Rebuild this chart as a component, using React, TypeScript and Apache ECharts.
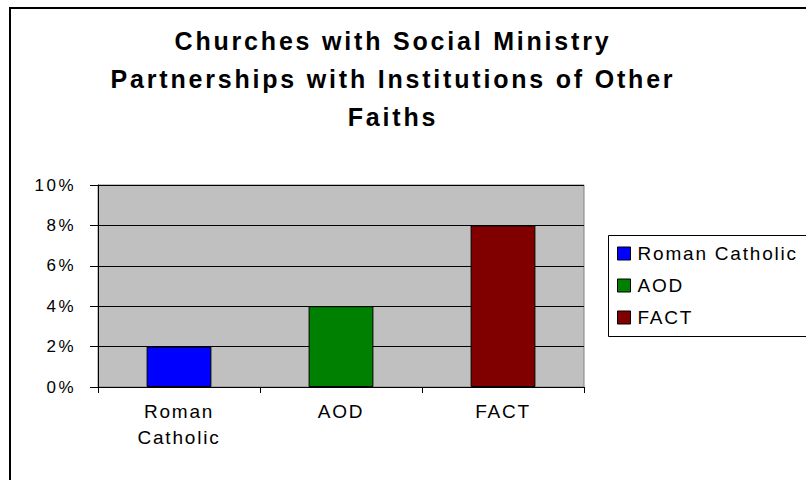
import React, { useEffect, useRef } from "react";
import * as echarts from "echarts";

const titleLines = [
  "Churches with Social Ministry",
  "Partnerships with Institutions of Other",
  "Faiths",
];
const categories = ["Roman Catholic", "AOD", "FACT"];
const values = [2, 4, 8];
const colors = ["#0000FF", "#008000", "#800000"];
const yMin = 0;
const yMax = 10;
const yStep = 2;

const FONT = "'Liberation Sans', Arial, sans-serif";

export default function App() {
  const ref = useRef<HTMLDivElement>(null);

  useEffect(() => {
    if (!ref.current) return;
    const chart = echarts.init(ref.current, undefined, { renderer: "svg" });

    const series = categories.map((name, i) => ({
      name,
      type: "bar",
      barWidth: "40%",
      barGap: "-100%",
      silent: true,
      data: categories.map((_, j) => (j === i ? values[i] : "-")),
      itemStyle: { color: colors[i], borderColor: "#000", borderWidth: 1 },
    }));

    chart.setOption({
      animation: false,
      backgroundColor: "#fff",
      textStyle: { fontFamily: FONT },
      graphic: [
        {
          type: "rect",
          shape: { x: 10, y: 8, width: 900, height: 600 },
          style: { fill: "none", stroke: "#000", lineWidth: 2 },
          silent: true,
        },
        {
          type: "rect",
          shape: { x: 608.5, y: 235.5, width: 300, height: 101 },
          style: { fill: "none", stroke: "#000", lineWidth: 1 },
          silent: true,
        },
        {
          type: "text",
          x: 393,
          y: 22,
          silent: true,
          style: {
            text: titleLines.join("\n"),
            fill: "#000",
            font: `bold 25px ${FONT}`,
            lineHeight: 38,
            align: "center",
            verticalAlign: "top",
          },
        },
      ],
      legend: {
        orient: "vertical",
        left: 617,
        top: 244,
        padding: 0,
        itemGap: 13,
        itemWidth: 13,
        itemHeight: 13,
        icon: "rect",
        selectedMode: false,
        data: categories,
        itemStyle: { borderColor: "#000", borderWidth: 1 },
        textStyle: { fontSize: 19, color: "#000", fontFamily: FONT, padding: [0, 0, 0, 2] },
      },
      grid: {
        left: 98,
        top: 185,
        width: 486,
        height: 202,
        show: true,
        backgroundColor: "#C0C0C0",
        borderColor: "#808080",
        borderWidth: 1,
        containLabel: false,
        outerBoundsMode: "none",
      },
      xAxis: {
        type: "category",
        data: categories,
        axisLine: { show: true, lineStyle: { color: "#000", width: 1 } },
        axisTick: { show: true, length: 6, alignWithLabel: false, lineStyle: { color: "#000" } },
        axisLabel: {
          margin: 11,
          fontSize: 19,
          lineHeight: 26,
          color: "#000",
          fontFamily: FONT,
          interval: 0,
          formatter: (v: string) => v.replace(" ", "\n"),
        },
        splitLine: { show: false },
      },
      yAxis: {
        type: "value",
        min: yMin,
        max: yMax,
        interval: yStep,
        axisLine: { show: true, lineStyle: { color: "#000", width: 1 } },
        axisTick: { show: true, length: 8, inside: false, lineStyle: { color: "#000" } },
        axisLabel: {
          margin: 22,
          fontSize: 17,
          color: "#000",
          fontFamily: FONT,
          formatter: "{value}%",
        },
        splitLine: { show: true, lineStyle: { color: "#000", width: 1 } },
      },
      series,
    });

    const applySpacing = () => {
      const root = ref.current;
      if (!root) return;
      root.querySelectorAll("text").forEach((t) => {
        const fs = parseFloat(getComputedStyle(t).fontSize || "0");
        const sp = fs >= 24 ? 2.8 : fs >= 18 ? 1.8 : 2.5;
        t.setAttribute("letter-spacing", String(sp));
      });
    };
    applySpacing();
    chart.on("finished", applySpacing);

    return () => {
      chart.dispose();
    };
  }, []);

  return (
    <div
      ref={ref}
      style={{ position: "absolute", left: 0, top: 0, width: 806, height: 480 }}
    />
  );
}
